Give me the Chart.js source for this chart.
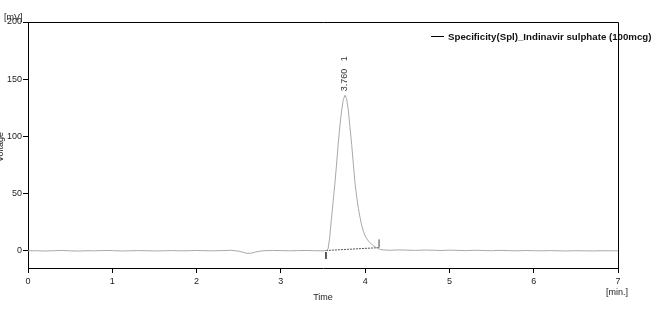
<!DOCTYPE html>
<html>
<head>
<meta charset="utf-8">
<script src="https://cdn.jsdelivr.net/npm/chart.js@4.4.1/dist/chart.umd.min.js"></script>
<style>
  html, body { margin: 0; padding: 0; background: #fff; }
  #wrap { width: 672px; height: 312px; }
</style>
</head>
<body>
<div id="wrap"><canvas id="chromChart" width="672" height="312"></canvas></div>
<script>
// chromatogram trace
const timeMin = [
    0.0, 0.1, 0.2, 0.3, 0.4, 0.5, 0.6, 0.7, 0.8, 0.9,
    1.0, 1.1, 1.2, 1.3, 1.4, 1.5, 1.6, 1.7, 1.8, 1.9,
    2.0, 2.1, 2.2, 2.3, 2.4, 2.5, 2.55, 2.6, 2.65, 2.7, 2.75, 2.8, 2.9,
    3.0, 3.1, 3.2, 3.3, 3.4, 3.5, 3.54, 3.56, 3.58, 3.60, 3.62, 3.64, 3.66, 3.68,
    3.70, 3.72, 3.74, 3.76, 3.78, 3.80, 3.82, 3.84, 3.86, 3.88,
    3.90, 3.92, 3.94, 3.96, 3.98, 4.00, 4.02, 4.04, 4.06, 4.08,
    4.10, 4.12, 4.14, 4.16, 4.18, 4.20, 4.25, 4.3, 4.4, 4.5,
    4.6, 4.7, 4.8, 4.9, 5.0, 5.1, 5.2, 5.3, 5.4, 5.5,
    5.6, 5.7, 5.8, 5.9, 6.0, 6.1, 6.2, 6.3, 6.4, 6.5,
    6.6, 6.7, 6.8, 6.9, 7.0
];
const voltage = [
    0.0, 0.1, -0.2, 0.1, 0.3, 0.0, -0.2, 0.1, 0.0, 0.3,
    0.2, -0.1, 0.0, 0.2, 0.1, -0.1, 0.0, 0.2, 0.0, 0.1,
    0.3, 0.1, 0.0, 0.2, 0.5, -0.3, -1.2, -2.2, -2.0, -1.0, -0.3, 0.1, 0.3,
    0.2, 0.0, 0.2, 0.3, 0.1, 0.0, 0.3, 1.5, 12, 28, 43, 58, 75, 93,
    109, 122, 132, 136, 133, 123, 108, 93, 76, 59,
    47, 37, 29, 22, 17, 13, 10.5, 8.5, 7, 5.5,
    4.5, 3.5, 2.5, 1.8, 1.3, 1.0, 0.6, 0.5, 0.8, 0.6,
    0.4, 0.7, 0.5, 0.3, 0.6, 0.4, 0.2, 0.5, 0.3, 0.1,
    0.4, 0.2, 0.0, 0.3, 0.1, 0.0, 0.2, 0.0, -0.1, 0.1,
    0.0, -0.1, 0.1, 0.0, 0.0
];

const xTicks = [0, 1, 2, 3, 4, 5, 6, 7];
const yTicks = [0, 50, 100, 150, 200];

// peak info
const peakTime = 3.76;
const peakHeight = 136;
const peakLabel = '3.760   1';

// integration baseline and its start / end markers
const baseTime = [3.535, 4.165];
const baseVolt = [0.3, 2.8];
const startMarkV = [-1, -7];
const endMarkV = [3, 10];

const seriesName = 'Specificity(Spl)_Indinavir sulphate (100mcg)';

const FONT = "'Liberation Sans', Arial, sans-serif";

const tracePts = timeMin.map((t, i) => ({ x: t, y: voltage[i] }));

const decorPlugin = {
    id: 'decor',
    afterDraw(chart) {
        const c = chart.ctx;
        const a = chart.chartArea;
        const xs = chart.scales.x, ys = chart.scales.y;
        c.save();

        c.fillStyle = '#222';
        c.font = '9px ' + FONT;
        c.textBaseline = 'middle';
        c.textAlign = 'left';
        c.fillText('[mV]', 4, 18);
        c.fillText('[min.]', 606, 293);
        c.textAlign = 'center';
        c.fillText('Time', 323, 298);
        c.save();
        c.translate(1, 147);
        c.rotate(-Math.PI / 2);
        c.fillText('Voltage', 0, 0);
        c.restore();

        // legend
        c.beginPath();
        c.strokeStyle = '#000';
        c.lineWidth = 1;
        c.moveTo(431, 36.5);
        c.lineTo(444, 36.5);
        c.stroke();
        c.font = 'bold 9.7px ' + FONT;
        c.textAlign = 'left';
        c.fillStyle = '#111';
        c.fillText(seriesName, 448, 37);

        // frame (top and right), drawn over the legend like the original
        c.strokeStyle = '#000';
        c.beginPath();
        c.moveTo(a.left, a.top + 0.5);
        c.lineTo(a.right + 0.5, a.top + 0.5);
        c.lineTo(a.right + 0.5, a.bottom);
        c.stroke();

        // peak label
        c.save();
        c.font = '9px ' + FONT;
        c.fillStyle = '#333';
        c.translate(xs.getPixelForValue(peakTime), ys.getPixelForValue(peakHeight) - 4);
        c.rotate(-Math.PI / 2);
        c.textAlign = 'left';
        c.fillText(peakLabel, 0, 0);
        c.restore();
        c.restore();
    }
};

new Chart(document.getElementById('chromChart'), {
    type: 'scatter',
    data: {
        datasets: [
            {
                label: seriesName,
                data: tracePts,
                showLine: true,
                borderColor: '#a8a8a8',
                borderWidth: 1,
                pointRadius: 0,
                tension: 0
            },
            {
                data: baseTime.map((t, i) => ({ x: t, y: baseVolt[i] })),
                showLine: true,
                borderColor: '#555',
                borderWidth: 1,
                borderDash: [2, 1],
                pointRadius: 0
            },
            {
                data: startMarkV.map(v => ({ x: baseTime[0], y: v })),
                showLine: true,
                borderColor: '#444',
                borderWidth: 1,
                pointRadius: 0
            },
            {
                data: endMarkV.map(v => ({ x: baseTime[1], y: v })),
                showLine: true,
                borderColor: '#444',
                borderWidth: 1,
                pointRadius: 0
            }
        ]
    },
    options: {
        responsive: false,
        animation: false,
        events: [],
        layout: {
            padding: { top: 22, right: 54, left: 0, bottom: 0 }
        },
        plugins: {
            legend: { display: false },
            tooltip: { enabled: false }
        },
        scales: {
            x: {
                type: 'linear',
                min: 0,
                max: 7,
                afterBuildTicks: s => { s.ticks = xTicks.map(v => ({ value: v })); },
                afterFit: s => { s.height = 44; },
                border: { display: true, color: '#000', width: 1 },
                grid: { drawOnChartArea: false, drawTicks: true, tickLength: 5, color: '#000' },
                ticks: {
                    padding: 3,
                    color: '#222',
                    font: { size: 9, family: FONT }
                }
            },
            y: {
                type: 'linear',
                min: -15,
                max: 200,
                afterBuildTicks: s => { s.ticks = yTicks.map(v => ({ value: v })); },
                afterFit: s => { s.width = 28; },
                border: { display: true, color: '#000', width: 1 },
                grid: { drawOnChartArea: false, drawTicks: true, tickLength: 5, color: '#000' },
                ticks: {
                    padding: 1,
                    color: '#222',
                    font: { size: 9, family: FONT }
                }
            }
        }
    },
    plugins: [decorPlugin]
});
</script>
</body>
</html>
